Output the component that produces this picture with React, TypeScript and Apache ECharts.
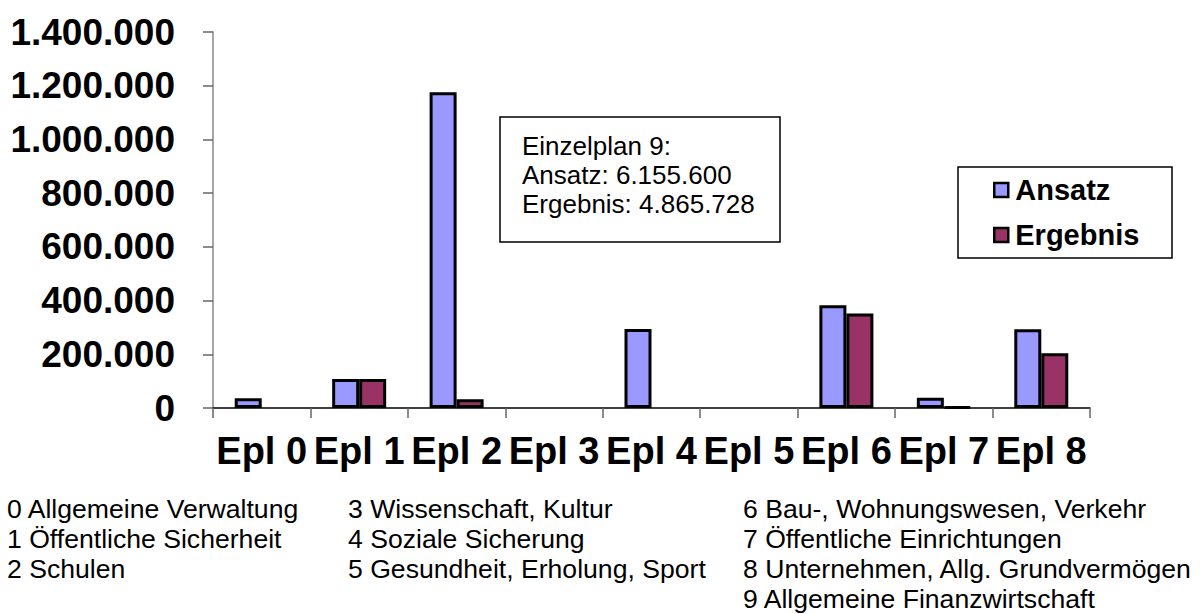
import React, { useEffect, useRef } from "react";
import * as echarts from "echarts";

const categories = ["Epl 0", "Epl 1", "Epl 2", "Epl 3", "Epl 4", "Epl 5", "Epl 6", "Epl 7", "Epl 8"];
const ansatz = [36000, 108000, 1176000, 0, 294000, 0, 383000, 38000, 293000];
const ergebnis = [0, 108000, 33000, 0, 0, 0, 352000, 4000, 204000];
const yTicks = { min: 0, max: 1400000, interval: 200000 };
const boxLines = ["Einzelplan 9:", "Ansatz: 6.155.600", "Ergebnis: 4.865.728"];
const footCol1 = ["0 Allgemeine Verwaltung", "1 Öffentliche Sicherheit", "2 Schulen"];
const footCol2 = ["3 Wissenschaft, Kultur", "4 Soziale Sicherung", "5 Gesundheit, Erholung, Sport"];
const footCol3 = [
  "6 Bau-, Wohnungswesen, Verkehr",
  "7 Öffentliche Einrichtungen",
  "8 Unternehmen, Allg. Grundvermögen",
  "9 Allgemeine Finanzwirtschaft",
];

const FONT = "'Liberation Sans', Arial, Helvetica, sans-serif";

function fmt(v: number): string {
  return String(Math.round(v)).replace(/\B(?=(\d{3})+(?!\d))/g, ".");
}

export default function App() {
  const ref = useRef<HTMLDivElement>(null);
  useEffect(() => {
    if (!ref.current) return;
    document.body.style.margin = "0";
    document.body.style.overflow = "hidden";
    const chart = echarts.init(ref.current, null, { renderer: "svg" });
    const footY = [509, 539, 569, 599];
    const footText = (lines: string[], x: number) =>
      lines.map((t, i) => ({
        type: "text",
        left: x,
        top: footY[i] - 15,
        style: { text: t, fontSize: 26.6, fontFamily: FONT, fill: "#000", lineHeight: 30 },
      }));
    const option: any = {
      animation: false,
      backgroundColor: "#fff",
      grid: { left: 213, right: 113, top: 32, bottom: 206, containLabel: false },
      xAxis: {
        type: "category",
        data: categories,
        axisLine: { lineStyle: { color: "#000", width: 1.5 } },
        axisTick: { show: true, length: 10, lineStyle: { color: "#666", width: 1.5 } },
        axisLabel: {
          fontSize: 38,
          fontWeight: "bold",
          fontFamily: FONT,
          color: "#000",
          margin: 24,
          interval: 0,
        },
        splitLine: { show: false },
      },
      yAxis: {
        type: "value",
        min: yTicks.min,
        max: yTicks.max,
        interval: yTicks.interval,
        axisLine: { show: true, lineStyle: { color: "#888", width: 1.5 } },
        axisTick: { show: true, length: 10, lineStyle: { color: "#666", width: 1.5 } },
        axisLabel: {
          fontSize: 37,
          fontWeight: "bold",
          fontFamily: FONT,
          color: "#000",
          margin: 38,
          formatter: (v: number) => fmt(v),
        },
        splitLine: { show: false },
      },
      legend: {
        orient: "vertical",
        left: 993,
        top: 175,
        padding: 0,
        itemWidth: 14,
        itemHeight: 14,
        itemGap: 15,
        icon: "rect",
        textStyle: { fontSize: 29, fontWeight: "bold", fontFamily: FONT, color: "#000", lineHeight: 30, padding: [0, 0, 0, 2] },
        data: ["Ansatz", "Ergebnis"],
        itemStyle: { borderColor: "#000", borderWidth: 2.5 },
      },
      series: [
        {
          name: "Ansatz",
          type: "bar",
          data: ansatz.map((v) => (v === 0 ? "-" : v)),
          barWidth: 27,
          barGap: "0%",
          itemStyle: { color: "#9999FF", borderColor: "#000", borderWidth: 3 },
        },
        {
          name: "Ergebnis",
          type: "bar",
          data: ergebnis.map((v) => (v === 0 ? "-" : v)),
          barWidth: 27,
          barGap: "0%",
          itemStyle: { color: "#993366", borderColor: "#000", borderWidth: 3 },
        },
      ],
      graphic: [
        {
          type: "rect",
          shape: { x: 500, y: 117, width: 280, height: 125 },
          style: { fill: "#fff", stroke: "#000", lineWidth: 1.5 },
          z: 10,
        },
        ...boxLines.map((t, i) => ({
          type: "text",
          left: 522,
          top: 146 + i * 29 - 15,
          z: 11,
          style: { text: t, fontSize: 26, fontFamily: FONT, fill: "#000", lineHeight: 30 },
        })),
        {
          type: "rect",
          shape: { x: 958, y: 167, width: 214, height: 91 },
          style: { fill: "none", stroke: "#000", lineWidth: 1.5 },
          z: 10,
        },
        ...footText(footCol1, 7),
        ...footText(footCol2, 348),
        ...footText(footCol3, 743),
      ],
    };
    chart.setOption(option);
    return () => chart.dispose();
  }, []);
  return <div ref={ref} style={{ width: 1203, height: 614 }} />;
}
